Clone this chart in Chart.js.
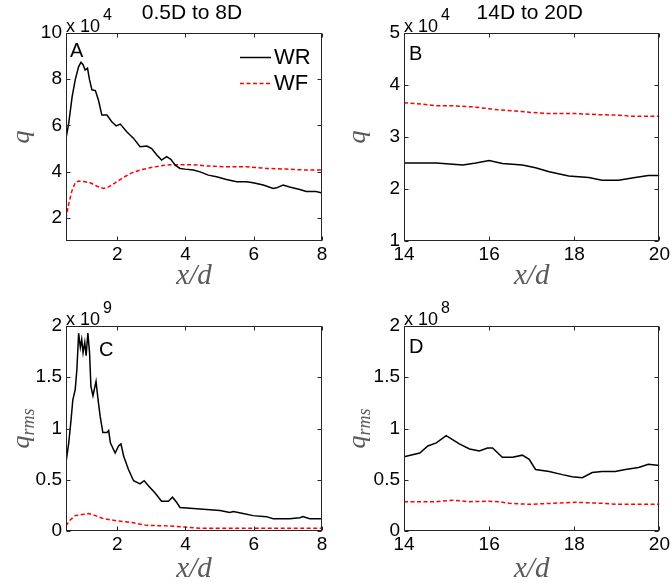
<!DOCTYPE html>
<html>
<head>
<meta charset="utf-8">
<script src="https://cdn.jsdelivr.net/npm/chart.js@4.4.0/dist/chart.umd.min.js"></script>
<style>
  body { margin: 0; background: #fff; }
  #wrap { position: relative; width: 672px; height: 586px; overflow: hidden; }
  canvas { position: absolute; }
</style>
</head>
<body>
<div id="wrap">
  <canvas id="cA" width="336" height="293" style="left:0;top:0"></canvas>
  <canvas id="cB" width="336" height="293" style="left:336px;top:0"></canvas>
  <canvas id="cC" width="336" height="293" style="left:0;top:293px"></canvas>
  <canvas id="cD" width="336" height="293" style="left:336px;top:293px"></canvas>
</div>
<script>
// values (q in units of 1e4, q_rms in 1e9 / 1e8)
const xNearWR = [0.5,0.58,0.68,0.77,0.87,0.94,1.0,1.06,1.13,1.19,1.26,1.36,1.45,1.55,1.7,1.84,1.97,2.09,2.28,2.48,2.67,2.87,3.01,3.16,3.3,3.45,3.57,3.7,3.84,3.99,4.23,4.43,4.67,4.91,5.2,5.5,5.79,5.98,6.28,6.57,6.67,6.86,7.05,7.35,7.54,7.83,8.0];
const qNearWR = [5.44,6.1,7.25,7.97,8.55,8.73,8.63,8.4,8.48,7.97,7.54,7.51,7.1,6.45,6.45,6.16,5.98,6.06,5.73,5.44,5.08,5.11,5.0,4.72,4.5,4.65,4.53,4.28,4.14,4.11,4.07,3.99,3.85,3.78,3.66,3.56,3.56,3.52,3.42,3.27,3.30,3.42,3.34,3.23,3.14,3.14,3.08];
const xNearWF = [0.5,0.58,0.68,0.77,0.87,1.06,1.21,1.41,1.6,1.75,1.94,2.18,2.43,2.67,2.96,3.26,3.55,3.84,4.23,4.62,5.2,5.79,6.37,6.96,7.54,8.0];
const qNearWF = [1.97,2.62,3.2,3.52,3.6,3.56,3.52,3.37,3.27,3.34,3.52,3.75,3.95,4.07,4.17,4.25,4.3,4.3,4.3,4.25,4.21,4.21,4.14,4.11,4.07,4.07];

const xFarWR = [14,14.76,15.38,15.69,16.0,16.31,16.78,17.09,17.41,17.87,18.34,18.65,19.04,19.43,19.74,20];
const qFarWR = [2.50,2.50,2.46,2.50,2.55,2.49,2.46,2.41,2.33,2.25,2.22,2.17,2.17,2.22,2.26,2.26];
const xFarWF = [14,14.44,14.76,15.15,15.61,15.93,16.24,16.63,17.02,17.41,18.03,18.58,19.04,19.35,20];
const qFarWF = [3.66,3.63,3.60,3.60,3.58,3.55,3.52,3.50,3.47,3.45,3.45,3.43,3.42,3.40,3.40];

const xNearRmsWR = [0.5,0.58,0.65,0.70,0.77,0.82,0.87,0.92,0.96,1.0,1.05,1.09,1.14,1.19,1.23,1.29,1.38,1.44,1.50,1.58,1.70,1.75,1.80,1.94,2.04,2.11,2.19,2.33,2.48,2.67,2.79,2.92,3.11,3.3,3.5,3.62,3.74,3.84,4.23,4.62,5.01,5.3,5.40,5.69,5.98,6.37,6.57,7.05,7.35,7.44,7.64,8.0];
const rmsNearWR = [0.67,0.86,1.09,1.28,1.38,1.58,1.93,1.79,1.87,1.74,1.84,1.71,1.93,1.74,1.41,1.32,1.46,1.28,1.12,0.96,0.96,0.98,0.86,0.76,0.83,0.85,0.73,0.60,0.49,0.46,0.49,0.44,0.37,0.29,0.29,0.33,0.28,0.23,0.22,0.21,0.20,0.18,0.19,0.17,0.15,0.14,0.12,0.12,0.13,0.14,0.12,0.12];
const xNearRmsWF = [0.5,0.63,0.77,0.97,1.16,1.36,1.6,1.99,2.48,2.87,3.45,3.94,4.43,5.4,6.37,8.0];
const rmsNearWF = [0.05,0.11,0.15,0.16,0.17,0.15,0.12,0.10,0.08,0.055,0.05,0.04,0.026,0.026,0.026,0.026];

const xFarRmsWR = [14,14.37,14.56,14.76,14.99,15.15,15.30,15.54,15.77,15.96,16.08,16.31,16.55,16.78,16.94,17.09,17.41,17.72,17.95,18.19,18.42,18.65,18.96,19.2,19.51,19.74,20];
const rmsFarWR = [0.725,0.76,0.83,0.86,0.93,0.89,0.85,0.80,0.78,0.81,0.81,0.72,0.72,0.74,0.70,0.60,0.58,0.55,0.53,0.52,0.57,0.58,0.58,0.60,0.62,0.65,0.64];
const xFarRmsWF = [14,14.76,15.15,15.54,15.93,16.24,16.47,16.94,17.48,18.03,18.65,19.04,20];
const rmsFarWF = [0.286,0.286,0.30,0.286,0.29,0.286,0.27,0.26,0.27,0.28,0.27,0.26,0.26];

const ticksNearX = [2, 4, 6, 8];
const ticksFarX = [14, 16, 18, 20];
const ticksNearQ = [2, 4, 6, 8, 10];
const ticksFarQ = [1, 2, 3, 4, 5];
const ticksRms = [0, 0.5, 1, 1.5, 2];

const seriesNames = ['WR', 'WF'];
const titles = ['0.5D to 8D', '14D to 20D'];

const SANS = "Arial, 'Liberation Sans', sans-serif";
const SERIF = "'Liberation Serif', 'Times New Roman', serif";
const LABEL_GREY = '#5a5a5a';

function pts(xs, ys) {
  return xs.map((x, i) => ({ x: x, y: ys[i] }));
}

// box, inward ticks and the text bits matlab puts around the axes
function framePlugin(p) {
  return {
    id: 'frame',
    afterDraw(chart) {
      const ctx = chart.ctx;
      const a = chart.chartArea;
      const xs = chart.scales.x, ys = chart.scales.y;
      ctx.save();
      ctx.strokeStyle = '#262626';
      ctx.lineWidth = 1;
      const L = Math.round(a.left) + 0.5, R = Math.round(a.right) - 0.5;
      const T = Math.round(a.top) + 0.5, B = Math.round(a.bottom) - 0.5;
      ctx.strokeRect(L, T, R - L, B - T);
      ctx.beginPath();
      p.xTicks.forEach(v => {
        const px = Math.round(xs.getPixelForValue(v)) + 0.5;
        ctx.moveTo(px, B); ctx.lineTo(px, B - 4);
        ctx.moveTo(px, T); ctx.lineTo(px, T + 4);
      });
      p.yTicks.forEach(v => {
        const py = Math.round(ys.getPixelForValue(v)) + 0.5;
        ctx.moveTo(L, py); ctx.lineTo(L + 4, py);
        ctx.moveTo(R, py); ctx.lineTo(R - 4, py);
      });
      ctx.stroke();

      ctx.fillStyle = '#000';
      ctx.textBaseline = 'alphabetic';
      // exponent
      ctx.textAlign = 'left';
      ctx.font = '18px ' + SANS;
      ctx.fillText('x 10', a.left, 32);
      const w = ctx.measureText('x 10').width;
      ctx.font = '16px ' + SANS;
      ctx.fillText(p.exp, a.left + w + 3, 20);

      // panel letter
      ctx.font = '20px ' + SANS;
      ctx.fillText(p.letter, p.letterAt[0], p.letterAt[1]);

      // panel title
      if (p.title) {
        ctx.textAlign = 'center';
        ctx.font = '21px ' + SANS;
        ctx.fillText(p.title, (a.left + a.right) / 2 - 2, 19);
      }

      // q_rms label
      if (p.rms) {
        ctx.save();
        ctx.translate(22, (a.top + a.bottom) / 2);
        ctx.rotate(-Math.PI / 2);
        ctx.fillStyle = LABEL_GREY;
        ctx.font = 'italic 26px ' + SERIF;
        const wq = ctx.measureText('q').width;
        ctx.font = 'italic 18px ' + SERIF;
        const wr = ctx.measureText('rms').width;
        const x0 = -(wq + wr) / 2;
        ctx.textAlign = 'left';
        ctx.textBaseline = 'middle';
        ctx.font = 'italic 26px ' + SERIF;
        ctx.fillText('q', x0, 0);
        ctx.font = 'italic 18px ' + SERIF;
        ctx.fillText('rms', x0 + wq, 7);
        ctx.restore();
      }

      // legend
      if (p.legend) {
        ctx.textAlign = 'left';
        ctx.textBaseline = 'middle';
        chart.data.datasets.forEach((ds, i) => {
          const y = 57 + i * 26;
          ctx.save();
          ctx.strokeStyle = ds.borderColor;
          ctx.lineWidth = ds.borderWidth;
          ctx.setLineDash(ds.borderDash || []);
          ctx.beginPath();
          ctx.moveTo(240, y + 0.5); ctx.lineTo(271, y + 0.5);
          ctx.stroke();
          ctx.restore();
          ctx.font = '22px ' + SANS;
          ctx.fillText(ds.label, 274, y + 1);
        });
      }
      ctx.restore();
    }
  };
}

function makePanel(p) {
  const ctx = document.getElementById(p.id).getContext('2d');
  return new Chart(ctx, {
    type: 'line',
    data: {
      datasets: [
        {
          label: seriesNames[0],
          data: p.wr,
          borderColor: '#000000',
          borderWidth: 1.5,
          pointRadius: 0,
          fill: false,
          tension: 0,
        },
        {
          label: seriesNames[1],
          data: p.wf,
          borderColor: '#ff0000',
          borderWidth: 1.5,
          borderDash: [4, 2.5],
          pointRadius: 0,
          fill: false,
          tension: 0,
        },
      ],
    },
    options: {
      responsive: false,
      animation: false,
      layout: { padding: { left: 0, right: 336 - p.right, top: 33, bottom: 0 } },
      plugins: { legend: { display: false }, tooltip: { enabled: false } },
      scales: {
        x: {
          type: 'linear',
          min: p.xMin,
          max: p.xMax,
          afterFit: s => { s.height = 293 - p.bottom; },
          afterBuildTicks: s => { s.ticks = p.xTicks.map(v => ({ value: v })); },
          grid: { display: false, drawTicks: false },
          border: { display: false },
          ticks: {
            color: '#000',
            padding: 2,
            maxRotation: 0,
            font: { family: SANS, size: 19 },
            callback: v => String(v),
          },
          title: {
            display: true,
            text: 'x/d',
            color: LABEL_GREY,
            font: { family: SERIF, size: 29, style: 'italic' },
            padding: { top: 0, bottom: -1 },
          },
        },
        y: {
          type: 'linear',
          min: p.yMin,
          max: p.yMax,
          afterFit: s => { s.width = p.left; },
          afterBuildTicks: s => { s.ticks = p.yTicks.map(v => ({ value: v })); },
          grid: { display: false, drawTicks: false },
          border: { display: false },
          ticks: {
            color: '#000',
            padding: 4,
            font: { family: SANS, size: 19 },
            callback: v => String(v),
          },
          title: {
            display: !p.rms,
            text: 'q',
            color: LABEL_GREY,
            font: { family: SERIF, size: 26, style: 'italic' },
            padding: { top: 7, bottom: 0 },
          },
        },
      },
    },
    plugins: [framePlugin(p)],
  });
}

makePanel({
  id: 'cA', left: 66, right: 322, bottom: 241,
  xMin: 0.5, xMax: 8, yMin: 1, yMax: 10,
  xTicks: ticksNearX, yTicks: ticksNearQ,
  wr: pts(xNearWR, qNearWR), wf: pts(xNearWF, qNearWF),
  title: titles[0], letter: 'A', letterAt: [70, 57], exp: '4', legend: true,
});
makePanel({
  id: 'cB', left: 68, right: 324, bottom: 241,
  xMin: 14, xMax: 20, yMin: 1, yMax: 5,
  xTicks: ticksFarX, yTicks: ticksFarQ,
  wr: pts(xFarWR, qFarWR), wf: pts(xFarWF, qFarWF),
  title: titles[1], letter: 'B', letterAt: [73, 60], exp: '4',
});
makePanel({
  id: 'cC', left: 66, right: 322, bottom: 238,
  xMin: 0.5, xMax: 8, yMin: 0, yMax: 2,
  xTicks: ticksNearX, yTicks: ticksRms,
  wr: pts(xNearRmsWR, rmsNearWR), wf: pts(xNearRmsWF, rmsNearWF),
  letter: 'C', letterAt: [99, 63], exp: '9', rms: true,
});
makePanel({
  id: 'cD', left: 68, right: 324, bottom: 238,
  xMin: 14, xMax: 20, yMin: 0, yMax: 2,
  xTicks: ticksFarX, yTicks: ticksRms,
  wr: pts(xFarRmsWR, rmsFarWR), wf: pts(xFarRmsWF, rmsFarWF),
  letter: 'D', letterAt: [73, 60], exp: '8', rms: true,
});
</script>
</body>
</html>
